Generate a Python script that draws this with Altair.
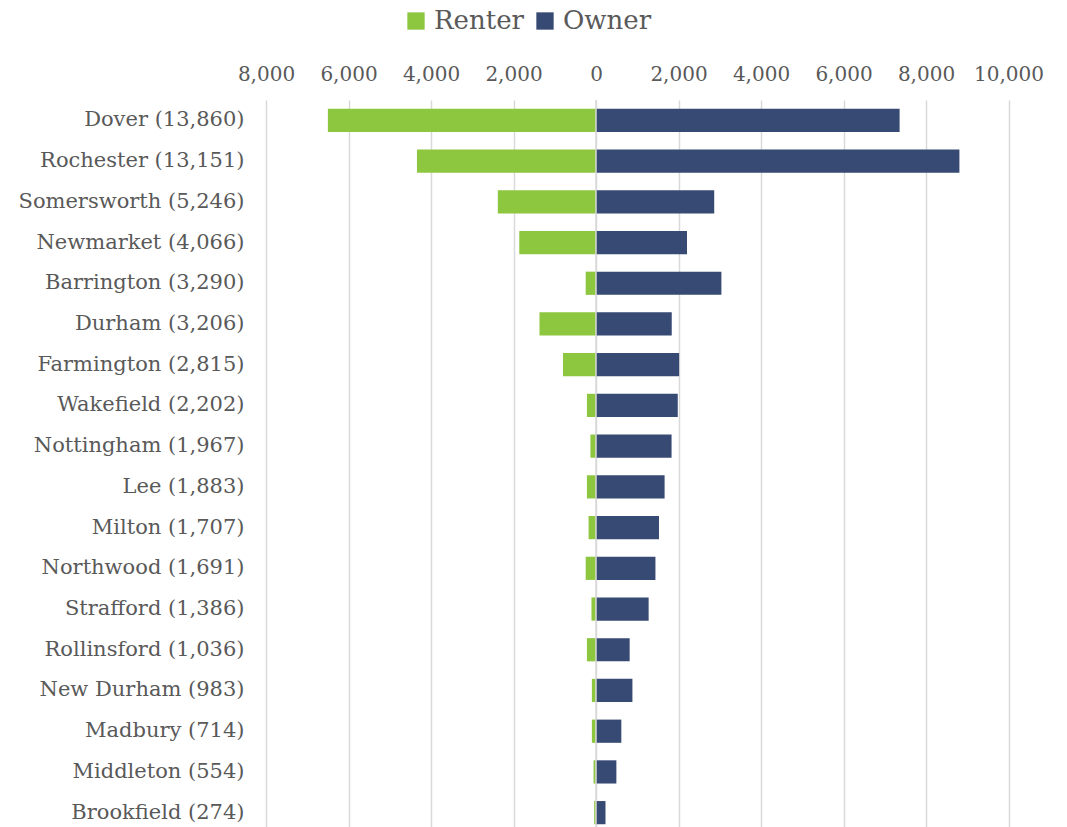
import altair as alt
import pandas as pd

towns = ["Dover", "Rochester", "Somersworth", "Newmarket", "Barrington", "Durham",
         "Farmington", "Wakefield", "Nottingham", "Lee", "Milton", "Northwood",
         "Strafford", "Rollinsford", "New Durham", "Madbury", "Middleton", "Brookfield"]
totals = [13860, 13151, 5246, 4066, 3290, 3206, 2815, 2202, 1967, 1883, 1707, 1691,
          1386, 1036, 983, 714, 554, 274]
renter = [6500, 4340, 2380, 1860, 250, 1370, 800, 220, 135, 220, 180, 250,
          110, 220, 100, 100, 60, 44]
owner = [7360, 8810, 2866, 2206, 3040, 1836, 2015, 1982, 1832, 1663, 1527, 1441,
         1276, 816, 883, 614, 494, 230]
series = ["Renter", "Owner"]
colors = ["#8DC63F", "#374A73"]
x_ticks = [-8000, -6000, -4000, -2000, 0, 2000, 4000, 6000, 8000, 10000]

labels = [f"{t} ({v:,})" for t, v in zip(towns, totals)]
rows = []
for lab, r, o in zip(labels, renter, owner):
    rows.append({"town": lab, "type": "Renter", "value": -r})
    rows.append({"town": lab, "type": "Owner", "value": o})
df = pd.DataFrame(rows)

FONT = "DejaVu Serif"
GRAY = "#595959"

x_enc = alt.X("value:Q", stack=None,
              scale=alt.Scale(domain=[-8000, 10000], nice=False, zero=False),
              axis=alt.Axis(orient="top", values=x_ticks, title=None,
                            labelExpr="format(abs(datum.value), ',')",
                            labelOverlap=False, labelFlush=False,
                            domain=False, ticks=False, grid=True,
                            gridColor="#D9D9D9", gridWidth=1.5,
                            labelFont=FONT, labelFontSize=20, labelColor=GRAY,
                            labelPadding=16))
y_enc = alt.Y("town:N", sort=labels,
              scale=alt.Scale(paddingInner=0.43, paddingOuter=0.215),
              axis=alt.Axis(title=None, domain=False, ticks=False,
                            labelFont=FONT, labelFontSize=21, labelColor=GRAY,
                            labelPadding=22, labelLimit=400))

bars = alt.Chart(df).mark_bar().encode(
    x=x_enc,
    y=y_enc,
    color=alt.Color("type:N",
                    scale=alt.Scale(domain=series, range=colors),
                    legend=alt.Legend(title=None, orient="none", direction="horizontal",
                                      legendX=137, legendY=-92,
                                      symbolType="square", symbolSize=300,
                                      symbolStrokeWidth=0,
                                      labelFont=FONT, labelFontSize=26,
                                      labelColor=GRAY, columnPadding=8,
                                      labelOffset=5)),
)

zero_rule = alt.Chart(pd.DataFrame({"zero": [0]})).mark_rule(
    color="#D9D9D9", strokeWidth=1.5
).encode(x=alt.X("zero:Q"))

chart = alt.layer(bars, zero_rule).properties(
    width=742.5,
    height=733,
    padding={"left": 266, "top": 100, "right": 55, "bottom": 10},
    autosize=alt.AutoSizeParams(type="none"),
).configure_view(stroke=None)

chart.save("out.html", embed_options={"renderer": "svg", "actions": False})
